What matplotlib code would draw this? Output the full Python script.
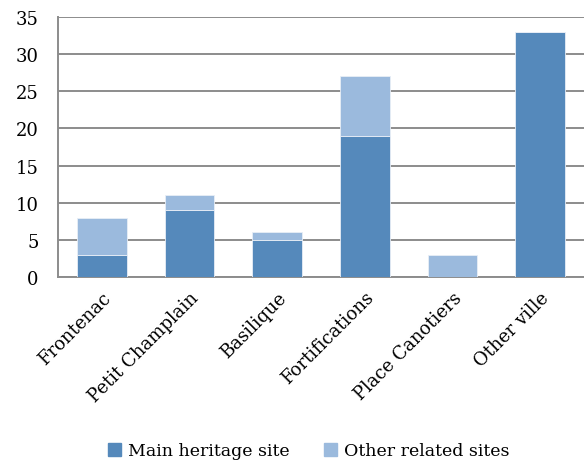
import numpy as np
import matplotlib.pyplot as plt
from matplotlib.patches import Patch

sites = ["Frontenac", "Petit Champlain", "Basilique", "Fortifications",
         "Place Canotiers", "Other ville"]
main_site = [3, 9, 5, 19, 0, 33]
related_sites = [5, 2, 1, 8, 3, 0]
y_ticks = [0, 5, 10, 15, 20, 25, 30, 35]

main_color = "#5589BB"
related_color = "#9BBADD"

plt.rcParams["font.family"] = ["DejaVu Serif"]

fig = plt.figure(figsize=(5.84, 4.64), dpi=100)
ax = fig.add_axes([58 / 584, 1 - 278 / 464, 526 / 584, 260 / 464])

x = np.arange(len(sites))
ax.bar(x, main_site, width=0.57, color=main_color, edgecolor="#e8eef6",
       linewidth=0.6, zorder=3)
ax.bar(x, related_sites, width=0.57, bottom=main_site, color=related_color,
       edgecolor="#e8eef6", linewidth=0.6, zorder=3)

ax.set_xlim(-0.5, len(sites) - 0.5)
ax.set_ylim(0, 35)
ax.set_yticks(y_ticks)
ax.yaxis.grid(True, color="#8c8c8c", linewidth=1.4, zorder=0)
ax.set_axisbelow(True)

for side in ["top", "right"]:
    ax.spines[side].set_visible(False)
for side in ["left", "bottom"]:
    ax.spines[side].set_color("#8c8c8c")
    ax.spines[side].set_linewidth(1.4)

ax.tick_params(axis="both", length=0, labelsize=13, colors="black")
ax.tick_params(axis="y", pad=14)
ax.set_xticks(x)
ax.set_xticklabels(sites, rotation=45, ha="right", va="top",
                   rotation_mode="anchor")
ax.tick_params(axis="x", pad=8)

handles = [Patch(color=main_color, label="Main heritage site"),
           Patch(color=related_color, label="Other related sites")]
fig.legend(handles=handles, loc="center", bbox_to_anchor=(0.529, 1 - 452 / 464),
           ncol=2, frameon=False, fontsize=12.5, handlelength=0.75,
           handleheight=0.75, handletextpad=0.4, columnspacing=2.0)

fig.savefig("out.png", dpi=100)
